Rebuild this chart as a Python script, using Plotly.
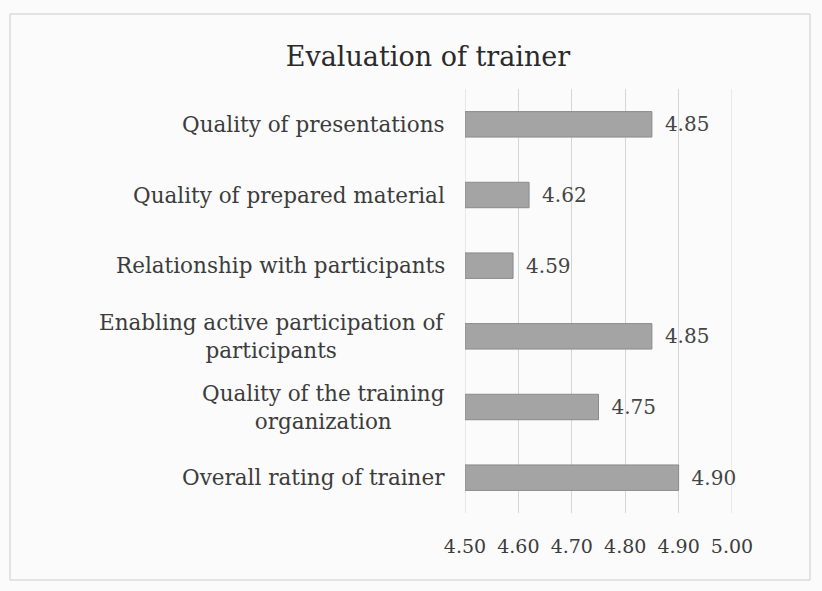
import plotly.graph_objects as go

categories = [
    "Quality of presentations",
    "Quality of prepared material",
    "Relationship with participants",
    "Enabling active participation of<br>participants",
    "Quality of the training<br>organization",
    "Overall rating of trainer",
]
scores = [4.85, 4.62, 4.59, 4.85, 4.75, 4.90]
tick_vals = [4.5, 4.6, 4.7, 4.8, 4.9, 5.0]
axis_min = tick_vals[0]

W, H = 822, 591
ml, mr, mt, mb = 465, 90, 89, 78
pw = W - ml - mr
ph = H - mt - mb

serif = "DejaVu Serif, Liberation Serif, serif"

# bars start at the axis minimum, so the labels can sit outside the plot clip
fig = go.Figure(go.Bar(
    x=[s - axis_min for s in scores],
    base=axis_min,
    y=list(range(len(categories))),
    orientation="h",
    marker=dict(color="#a4a4a4", line=dict(color="#8a8a8a", width=1)),
    text=[f"\u2002{s:.2f}" for s in scores],
    textposition="outside",
    textfont=dict(family=serif, size=20, color="#454545"),
    cliponaxis=False,
))

# category labels: lines centred, block right-aligned against the plot
for i, c in enumerate(categories):
    fig.add_annotation(
        x=0, xref="paper", y=i, yref="y",
        text=c, showarrow=False, xanchor="right", xshift=-18,
        align="center",
        font=dict(family=serif, size=21.5, color="#3c3c3c"),
    )

# gridlines at the two range ends (plotly drops them at the edges)
for t in (tick_vals[0], tick_vals[-1]):
    fig.add_shape(type="line", xref="x", yref="paper", x0=t, x1=t,
                  y0=0, y1=1, layer="below",
                  line=dict(color="#d6d6d6", width=1))

# outer frame of the chart
fig.add_shape(
    type="rect", xref="paper", yref="paper",
    x0=(10 - ml) / pw, x1=(810 - ml) / pw,
    y0=-(580 - mt - ph) / ph, y1=1 + (mt - 14) / ph,
    line=dict(color="#cccccc", width=1),
)

fig.update_layout(
    width=W, height=H,
    margin=dict(l=ml, r=mr, t=mt, b=mb),
    paper_bgcolor="#fbfbfb",
    plot_bgcolor="#fbfbfb",
    title=dict(text="Evaluation of trainer", x=428 / W, xanchor="center",
               y=1 - 57 / H, yanchor="middle",
               font=dict(family=serif, size=27, color="#2a2a2a")),
    bargap=0.64,
    showlegend=False,
)
fig.update_xaxes(
    range=[tick_vals[0], tick_vals[-1]],
    tickvals=tick_vals,
    ticktext=[f"{t:.2f}" for t in tick_vals],
    showgrid=True, gridcolor="#d6d6d6", gridwidth=1,
    zeroline=False, showline=False,
    ticks="outside", ticklen=16, tickcolor="rgba(0,0,0,0)",
    tickfont=dict(family=serif, size=19, color="#3c3c3c"),
)
fig.update_yaxes(
    range=[len(categories) - 0.5, -0.5],
    showticklabels=False, showgrid=False, zeroline=False,
)

fig.write_html("out.html", config={"displayModeBar": False},
               post_script="document.body.style.margin='0';")
